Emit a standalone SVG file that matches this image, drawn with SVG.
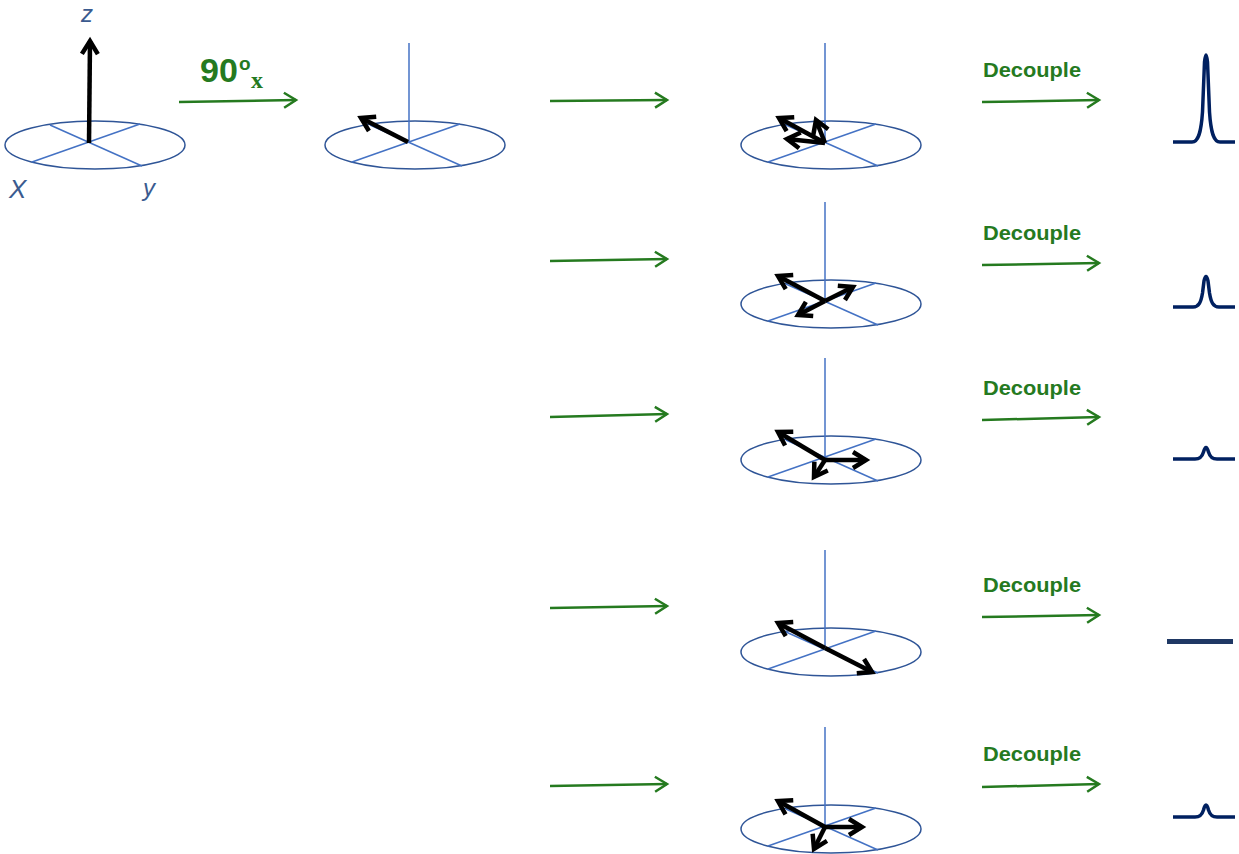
<svg xmlns="http://www.w3.org/2000/svg" xmlns:xlink="http://www.w3.org/1999/xlink" width="1239" height="854" viewBox="0 0 1239 854">
  <style>
    .ring { fill: none; stroke: #2F5597; stroke-width: 1.5; }
    .axis { stroke: #4472C4; stroke-width: 1.5; }
    .vec { stroke: #000; stroke-width: 4.5; fill: none; marker-end: url(#vhead); }
    .flow { stroke: #257A1F; stroke-width: 2.5; fill: none; marker-end: url(#ghead); }
    .lbl { fill: #3B5B8F; font-family: "Liberation Sans", Arial, sans-serif; font-style: italic; }
    .dec { fill: #257A1F; font-family: "Liberation Sans", Arial, sans-serif; font-weight: bold; font-size: 21px; }
    .peak { fill: none; stroke: #002060; stroke-width: 3.5; stroke-linejoin: round; }
  </style>
  <defs>
    <marker id="vhead" markerUnits="userSpaceOnUse" markerWidth="24" markerHeight="24" refX="15" refY="8" orient="auto" overflow="visible">
      <path d="M2,0 L15,8 L2,16" stroke="#000" stroke-width="4.5" fill="none"/>
    </marker>
    <marker id="ghead" markerUnits="userSpaceOnUse" markerWidth="18" markerHeight="18" refX="13" refY="7.5" orient="auto" overflow="visible">
      <path d="M1,0 L13,7.5 L1,15" stroke="#257A1F" stroke-width="2.5" fill="none"/>
    </marker>
    <!-- rotating-frame axes, origin at (0,0) -->
    <g id="frame">
      <ellipse class="ring" cx="6" cy="2" rx="90" ry="24"/>
      <line class="axis" x1="0" y1="0" x2="0" y2="-100"/>
      <line class="axis" x1="-39" y1="-18" x2="53" y2="23"/>
      <line class="axis" x1="-57" y1="19" x2="51" y2="-19"/>
    </g>
  </defs>

  <!-- equilibrium magnetisation -->
  <g id="n-equilibrium">
    <use xlink:href="#frame" href="#frame" x="89" y="143"/>
    <line class="vec" x1="89" y1="143" x2="90" y2="41"/>
    <text class="lbl" x="81" y="22" font-size="24">z</text>
    <text class="lbl" x="9" y="198" font-size="26">X</text>
    <text class="lbl" x="143" y="196" font-size="24">y</text>
  </g>

  <!-- after the pulse -->
  <g id="n-pulse">
    <use xlink:href="#frame" href="#frame" x="409" y="143"/>
    <line class="vec" x1="408" y1="142" x2="361" y2="118"/>
  </g>

  <g id="n-row1">
    <use xlink:href="#frame" href="#frame" x="825" y="143"/>
    <line class="vec" x1="825" y1="143" x2="779" y2="118"/>
    <line class="vec" x1="825" y1="143" x2="787" y2="139"/>
    <line class="vec" x1="825" y1="143" x2="816" y2="120"/>
  </g>

  <g id="n-row2">
    <use xlink:href="#frame" href="#frame" x="825" y="302"/>
    <line class="vec" x1="825" y1="301" x2="778" y2="276"/>
    <line class="vec" x1="825" y1="301" x2="798" y2="315"/>
    <line class="vec" x1="825" y1="301" x2="853" y2="287"/>
  </g>

  <g id="n-row3">
    <use xlink:href="#frame" href="#frame" x="825" y="458"/>
    <line class="vec" x1="825" y1="460" x2="778" y2="432"/>
    <line class="vec" x1="825" y1="460" x2="814" y2="477"/>
    <line class="vec" x1="825" y1="460" x2="866" y2="460"/>
  </g>

  <g id="n-row4">
    <use xlink:href="#frame" href="#frame" x="825" y="650"/>
    <line class="vec" x1="825" y1="648" x2="778" y2="623"/>
    <line class="vec" x1="825" y1="648" x2="872" y2="672"/>
  </g>

  <g id="n-row5">
    <use xlink:href="#frame" href="#frame" x="825" y="827"/>
    <line class="vec" x1="825" y1="827" x2="778" y2="801"/>
    <line class="vec" x1="825" y1="827" x2="814" y2="849"/>
    <line class="vec" x1="825" y1="827" x2="862" y2="827"/>
  </g>

  <!-- spectra -->
  <g id="n-spec1">
    <path class="peak" d="M1173,142 H1192 C1198,142 1201,134 1202.5,112 L1204.5,62 Q1206,48 1207.5,62 L1209.5,112 C1211,134 1214,142 1220,142 H1235"/>
  </g>
  <g id="n-spec2">
    <path class="peak" d="M1173,307 H1193 C1199,307 1201,302 1202.5,293 L1204,281 Q1206,272 1208,281 L1209.5,293 C1211,302 1213,307 1219,307 H1235"/>
  </g>
  <g id="n-spec3">
    <path class="peak" d="M1173,459 H1195 C1200,459 1202,457 1203.5,452 Q1206,443 1208.5,452 C1210,457 1212,459 1217,459 H1235"/>
  </g>
  <g id="n-spec4">
    <rect x="1167" y="639" width="66" height="5" fill="#1F3864"/>
  </g>
  <g id="n-spec5">
    <path class="peak" d="M1173,817 H1195 C1200,817 1202,815 1203.5,810 Q1206,800 1208.5,810 C1210,815 1212,817 1217,817 H1235"/>
  </g>

  <!-- connectors -->
  <g id="connectors">
    <line class="flow" x1="179" y1="102" x2="296" y2="100"/>
    <line class="flow" x1="550" y1="101" x2="667" y2="100"/>
    <line class="flow" x1="550" y1="261" x2="667" y2="259"/>
    <line class="flow" x1="550" y1="417" x2="667" y2="414"/>
    <line class="flow" x1="550" y1="608" x2="667" y2="606"/>
    <line class="flow" x1="550" y1="786" x2="667" y2="784"/>
    <line class="flow" x1="982" y1="102" x2="1099" y2="100"/>
    <line class="flow" x1="982" y1="265" x2="1099" y2="263"/>
    <line class="flow" x1="982" y1="420" x2="1099" y2="417"/>
    <line class="flow" x1="982" y1="617" x2="1099" y2="615"/>
    <line class="flow" x1="982" y1="787" x2="1099" y2="784"/>
  </g>

  <!-- connector labels -->
  <g id="labels">
    <text x="200" y="82" fill="#257A1F" font-family="'Liberation Sans', Arial, sans-serif" font-weight="bold" font-size="34">90</text>
    <text x="239" y="70" fill="#257A1F" font-family="'Liberation Sans', Arial, sans-serif" font-weight="bold" font-size="19">o</text>
    <text x="251" y="88" fill="#257A1F" font-family="'Liberation Serif', 'Times New Roman', serif" font-weight="bold" font-size="24">x</text>
    <text class="dec" x="983" y="77" textLength="98" lengthAdjust="spacingAndGlyphs">Decouple</text>
    <text class="dec" x="983" y="240" textLength="98" lengthAdjust="spacingAndGlyphs">Decouple</text>
    <text class="dec" x="983" y="395" textLength="98" lengthAdjust="spacingAndGlyphs">Decouple</text>
    <text class="dec" x="983" y="592" textLength="98" lengthAdjust="spacingAndGlyphs">Decouple</text>
    <text class="dec" x="983" y="761" textLength="98" lengthAdjust="spacingAndGlyphs">Decouple</text>
  </g>
</svg>
